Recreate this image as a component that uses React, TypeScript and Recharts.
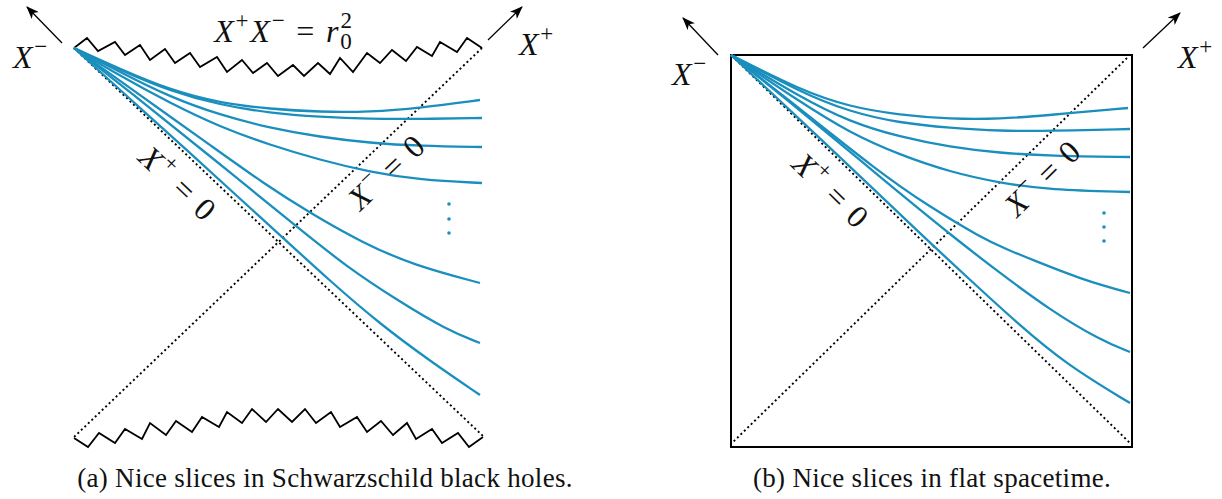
import React from 'react';
import { ComposedChart, Line, Scatter, XAxis, YAxis, ReferenceArea } from 'recharts';

type Pt = { u: number; v: number };
type Label = { u: number; v: number; text: string; angle?: number; caption?: boolean };

// Units: pixels measured from the bottom-left corner of each diagram, v pointing up.

// ---------- (a) Schwarzschild ----------
const aSingularityTop: Pt[] = [
  { u: 0, v: 389 }, { u: 13, v: 399 }, { u: 24, v: 386 }, { u: 41, v: 395 }, { u: 51, v: 382 },
  { u: 66, v: 392 }, { u: 76, v: 377 }, { u: 91, v: 388 }, { u: 101, v: 374 }, { u: 116, v: 384 },
  { u: 126, v: 370 }, { u: 143, v: 380 }, { u: 153, v: 365 }, { u: 168, v: 377 }, { u: 179, v: 364 },
  { u: 193, v: 374 }, { u: 204, v: 361 }, { u: 219, v: 372 }, { u: 230, v: 361 }, { u: 244, v: 374 },
  { u: 256, v: 363 }, { u: 266, v: 379 }, { u: 279, v: 365 }, { u: 293, v: 384 }, { u: 306, v: 374 },
  { u: 318, v: 387 }, { u: 332, v: 376 }, { u: 343, v: 390 }, { u: 358, v: 381 }, { u: 366, v: 395 },
  { u: 383, v: 385 }, { u: 393, v: 399 }, { u: 408, v: 389 },
];
const aSingularityBottom: Pt[] = [
  { u: 0, v: -1 }, { u: 14, v: -10 }, { u: 25, v: 4 }, { u: 41, v: -6 }, { u: 51, v: 8 },
  { u: 68, v: -2 }, { u: 76, v: 14 }, { u: 92, v: 2 }, { u: 102, v: 16 }, { u: 118, v: 5 },
  { u: 128, v: 20 }, { u: 145, v: 10 }, { u: 153, v: 25 }, { u: 168, v: 14 }, { u: 178, v: 28 },
  { u: 192, v: 15 }, { u: 204, v: 28 }, { u: 218, v: 15 }, { u: 231, v: 28 }, { u: 242, v: 14 },
  { u: 257, v: 25 }, { u: 266, v: 10 }, { u: 283, v: 20 }, { u: 293, v: 5 }, { u: 307, v: 16 },
  { u: 319, v: 2 }, { u: 333, v: 14 }, { u: 342, v: -2 }, { u: 358, v: 8 }, { u: 368, v: -6 },
  { u: 384, v: 4 }, { u: 395, v: -10 }, { u: 409, v: 0 },
];
const aHorizonPlus: Pt[] = [{ u: 0, v: 389 }, { u: 410, v: 0 }];
const aHorizonMinus: Pt[] = [{ u: 408, v: 389 }, { u: 0, v: 0 }];

const aSlice1: Pt[] = [{ u: 0, v: 389 }, { u: 46, v: 368 }, { u: 96, v: 347 }, { u: 146, v: 334 }, { u: 196, v: 328 }, { u: 246, v: 325 }, { u: 296, v: 325 }, { u: 346, v: 329 }, { u: 406, v: 337 }];
const aSlice2: Pt[] = [{ u: 0, v: 389 }, { u: 46, v: 367 }, { u: 96, v: 346 }, { u: 146, v: 332 }, { u: 196, v: 324 }, { u: 246, v: 320 }, { u: 296, v: 318 }, { u: 346, v: 318 }, { u: 408, v: 319 }];
const aSlice3: Pt[] = [{ u: 0, v: 389 }, { u: 46, v: 365 }, { u: 96, v: 340 }, { u: 146, v: 322 }, { u: 196, v: 309 }, { u: 246, v: 300 }, { u: 296, v: 294 }, { u: 346, v: 291 }, { u: 408, v: 290 }];
const aSlice4: Pt[] = [{ u: 0, v: 389 }, { u: 46, v: 361 }, { u: 96, v: 334 }, { u: 146, v: 310 }, { u: 196, v: 292 }, { u: 246, v: 277 }, { u: 296, v: 265 }, { u: 346, v: 257 }, { u: 408, v: 254 }];
const aSlice5: Pt[] = [{ u: 0, v: 389 }, { u: 56, v: 349 }, { u: 143, v: 287 }, { u: 189, v: 254 }, { u: 236, v: 224 }, { u: 289, v: 194 }, { u: 339, v: 172 }, { u: 406, v: 154 }];
const aSlice6: Pt[] = [{ u: 0, v: 389 }, { u: 56, v: 345 }, { u: 131, v: 285 }, { u: 223, v: 210 }, { u: 273, v: 170 }, { u: 323, v: 137 }, { u: 373, v: 107 }, { u: 406, v: 94 }];
const aSlice7: Pt[] = [{ u: 0, v: 389 }, { u: 56, v: 338 }, { u: 113, v: 287 }, { u: 164, v: 240 }, { u: 206, v: 202 }, { u: 256, v: 156 }, { u: 306, v: 113 }, { u: 356, v: 76 }, { u: 406, v: 42 }];
const aSlices = [aSlice1, aSlice2, aSlice3, aSlice4, aSlice5, aSlice6, aSlice7];

const aDots: Pt[] = [{ u: 375, v: 233 }, { u: 375, v: 218 }, { u: 375, v: 204 }];
const aArrows: Pt[][] = [
  [{ u: -12, v: 394 }, { u: -47, v: 430 }],
  [{ u: 414, v: 397 }, { u: 448, v: 430 }],
];
const aLabels: Label[] = [
  { u: -43, v: 380, text: 'X^-' },
  { u: 463, v: 393, text: 'X^+' },
  { u: 210, v: 406, text: 'X^+X^- = r_0^2' },
  { u: 104, v: 253, text: 'X^+ = 0', angle: 43.5 },
  { u: 313, v: 265, text: 'X^- = 0', angle: -43.5 },
  { u: 251, v: -41, text: '(a) Nice slices in Schwarzschild black holes.', caption: true },
];

// ---------- (b) flat spacetime ----------
const bBox = { u0: 0, u1: 401, v0: 0, v1: 392 };
const bDiagPlus: Pt[] = [{ u: 1, v: 391 }, { u: 399, v: 4 }];
const bDiagMinus: Pt[] = [{ u: 396, v: 389 }, { u: 2, v: 5 }];

const bSlice1: Pt[] = [{ u: 0, v: 392 }, { u: 69, v: 357 }, { u: 119, v: 340 }, { u: 169, v: 332 }, { u: 219, v: 328 }, { u: 269, v: 328 }, { u: 319, v: 332 }, { u: 397, v: 339 }];
const bSlice2: Pt[] = [{ u: 0, v: 392 }, { u: 69, v: 355 }, { u: 119, v: 335 }, { u: 169, v: 324 }, { u: 219, v: 319 }, { u: 269, v: 316 }, { u: 319, v: 316 }, { u: 399, v: 318 }];
const bSlice3: Pt[] = [{ u: 0, v: 392 }, { u: 69, v: 350 }, { u: 119, v: 325 }, { u: 169, v: 310 }, { u: 219, v: 300 }, { u: 269, v: 294 }, { u: 319, v: 291 }, { u: 399, v: 290 }];
const bSlice4: Pt[] = [{ u: 0, v: 392 }, { u: 69, v: 345 }, { u: 119, v: 314 }, { u: 169, v: 292 }, { u: 219, v: 275 }, { u: 269, v: 264 }, { u: 319, v: 257 }, { u: 399, v: 255 }];
const bSlice5: Pt[] = [{ u: 0, v: 392 }, { u: 49, v: 354 }, { u: 149, v: 274 }, { u: 199, v: 240 }, { u: 249, v: 210 }, { u: 277, v: 197 }, { u: 302, v: 187 }, { u: 352, v: 167 }, { u: 399, v: 154 }];
const bSlice6: Pt[] = [{ u: 0, v: 392 }, { u: 69, v: 337 }, { u: 149, v: 270 }, { u: 226, v: 207 }, { u: 269, v: 174 }, { u: 319, v: 137 }, { u: 369, v: 107 }, { u: 399, v: 95 }];
const bSlice7: Pt[] = [{ u: 0, v: 392 }, { u: 109, v: 290 }, { u: 196, v: 207 }, { u: 236, v: 170 }, { u: 286, v: 124 }, { u: 336, v: 82 }, { u: 399, v: 44 }];
const bSlices = [bSlice1, bSlice2, bSlice3, bSlice4, bSlice5, bSlice6, bSlice7];

const bDots: Pt[] = [{ u: 373, v: 234 }, { u: 373, v: 220 }, { u: 373, v: 206 }];
const bArrows: Pt[][] = [
  [{ u: -13, v: 392 }, { u: -48, v: 429 }],
  [{ u: 412, v: 399 }, { u: 449, v: 434 }],
];
const bLabels: Label[] = [
  { u: -41, v: 373, text: 'X^-' },
  { u: 465, v: 390, text: 'X^+' },
  { u: 100, v: 256, text: 'X^+ = 0', angle: 44.3 },
  { u: 312, v: 269, text: 'X^- = 0', angle: -44.3 },
  { u: 201, v: -31, text: '(b) Nice slices in flat spacetime.', caption: true },
];

const BLUE = '#1a8fbe';
const INK = '#000';
const SERIF = '"Liberation Serif", "Times New Roman", serif';
const MATH_FS = 32;
const CAPTION_FS = 27;

// tiny TeX-ish renderer: letters italic, ^x superscript, _x subscript (sub+sup stacked)
function mathSpans(src: string, fs: number) {
  const out: React.ReactNode[] = [];
  let shift = 0;
  let prevSubW = 0;
  for (let i = 0; i < src.length; i++) {
    let c = src[i];
    let target = 0;
    let script = false;
    if (c === '^' || c === '_') {
      script = true;
      target = c === '^' ? -0.42 * fs : 0.24 * fs;
      i++;
      c = src[i];
    }
    const size = script ? fs * 0.72 : fs;
    const dx = script && target < 0 && prevSubW ? -prevSubW : 0;
    out.push(
      <tspan
        key={i}
        dx={dx || undefined}
        dy={target - shift}
        fontSize={size}
        fontStyle={/[A-Za-z]/.test(c) ? 'italic' : 'normal'}
      >
        {c === '-' ? '\u2212' : c}
      </tspan>,
    );
    shift = target;
    prevSubW = script && target > 0 ? size * 0.5 + 1.5 : 0;
  }
  return out;
}

const LabelShape = (props: any) => {
  const { cx, cy, payload } = props;
  const l = payload as Label;
  if (l.caption) {
    return (
      <text x={cx} y={cy + CAPTION_FS * 0.33} textAnchor="middle" fontFamily={SERIF} fontSize={CAPTION_FS}
        letterSpacing={0.3} fill="#111" style={{ whiteSpace: 'pre' }}>
        {l.text}
      </text>
    );
  }
  return (
    <text
      x={cx}
      y={cy + MATH_FS * 0.33}
      textAnchor="middle"
      fontFamily={SERIF}
      fontSize={MATH_FS}
      letterSpacing={1.8}
      fill="#111"
      style={{ whiteSpace: 'pre' }}
      transform={l.angle ? `rotate(${l.angle} ${cx} ${cy})` : undefined}
    >
      {mathSpans(l.text, MATH_FS)}
    </text>
  );
};

const DotShape = (props: any) => <circle cx={props.cx} cy={props.cy} r={1.8} fill={BLUE} />;

interface PanelProps {
  left: number;
  uDomain: [number, number];
  vDomain: [number, number];
  slices: Pt[][];
  dashed: Pt[][];
  solid: Pt[][];
  arrows: Pt[][];
  dots: Pt[];
  labels: Label[];
  box?: { u0: number; u1: number; v0: number; v1: number };
  id: string;
}

const Panel: React.FC<PanelProps> = ({ left, uDomain, vDomain, slices, dashed, solid, arrows, dots, labels, box, id }) => (
  <div style={{ position: 'absolute', left, top: 0 }}>
    <ComposedChart width={611} height={499} margin={{ top: 0, right: 0, bottom: 0, left: 0 }}>
      <defs>
        <marker id={`head-${id}`} viewBox="0 0 13 10" refX="12" refY="5" markerWidth="13" markerHeight="10"
          markerUnits="userSpaceOnUse" orient="auto">
          <path d="M0,0 L13,5 L0,10 L3.5,5 z" fill={INK} />
        </marker>
      </defs>
      <XAxis type="number" dataKey="u" domain={uDomain} allowDataOverflow hide />
      <YAxis type="number" dataKey="v" domain={vDomain} allowDataOverflow hide />
      {box && (
        <ReferenceArea x1={box.u0} x2={box.u1} y1={box.v0} y2={box.v1} fill="none" fillOpacity={0}
          stroke={INK} strokeWidth={2} ifOverflow="visible" />
      )}
      {dashed.map((d, i) => (
        <Line key={`d${i}`} data={d} dataKey="v" type="linear" stroke={INK} strokeWidth={1.9}
          strokeDasharray="2 2.8" dot={false} activeDot={false} isAnimationActive={false} />
      ))}
      {solid.map((d, i) => (
        <Line key={`s${i}`} data={d} dataKey="v" type="linear" stroke={INK} strokeWidth={1.8}
          dot={false} activeDot={false} isAnimationActive={false} />
      ))}
      {slices.map((d, i) => (
        <Line key={`c${i}`} data={d} dataKey="v" type="basis" stroke={BLUE} strokeWidth={2.3}
          dot={false} activeDot={false} isAnimationActive={false} />
      ))}
      {arrows.map((d, i) => (
        <Line key={`a${i}`} data={d} dataKey="v" type="linear" stroke={INK} strokeWidth={1.3}
          markerEnd={`url(#head-${id})`} dot={false} activeDot={false} isAnimationActive={false} />
      ))}
      <Scatter data={dots} shape={DotShape} isAnimationActive={false} />
      <Scatter data={labels} shape={LabelShape} isAnimationActive={false} />
    </ComposedChart>
  </div>
);

export default function App() {
  return (
    <div style={{ position: 'absolute', left: 0, top: 0, width: 1222, height: 499, background: '#fff' }}>
      <Panel
        id="a"
        left={0}
        uDomain={[-74, 537]}
        vDomain={[-62, 437]}
        slices={aSlices}
        dashed={[aHorizonPlus, aHorizonMinus]}
        solid={[aSingularityTop, aSingularityBottom]}
        arrows={aArrows}
        dots={aDots}
        labels={aLabels}
      />
      <Panel
        id="b"
        left={611}
        uDomain={[-120, 491]}
        vDomain={[-52, 447]}
        slices={bSlices}
        dashed={[bDiagPlus, bDiagMinus]}
        solid={[]}
        arrows={bArrows}
        dots={bDots}
        labels={bLabels}
        box={bBox}
      />
    </div>
  );
}
